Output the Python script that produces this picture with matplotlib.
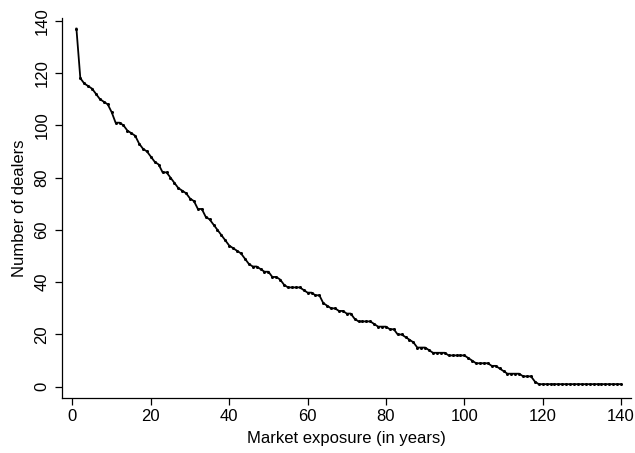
import matplotlib
matplotlib.use("Agg")
import matplotlib.pyplot as plt

# Years of market exposure and number of dealers still active
years = list(range(1, 141))
dealers = [
    137, 118, 116, 115, 114, 112, 110, 109, 108, 105,
    101, 101, 100, 98, 97, 96, 93, 91, 90, 88,
    86, 85, 82, 82, 80, 78, 76, 75, 74, 72,
    71, 68, 68, 65, 64, 62, 60, 58, 56, 54,
    53, 52, 51, 49, 47, 46, 46, 45, 44, 44,
    42, 42, 41, 39, 38, 38, 38, 38, 37, 36,
    36, 35, 35, 32, 31, 30, 30, 29, 29, 28,
    28, 26, 25, 25, 25, 25, 24, 23, 23, 23,
    22, 22, 20, 20, 19, 18, 17, 15, 15, 15,
    14, 13, 13, 13, 13, 12, 12, 12, 12, 12,
    11, 10, 9, 9, 9, 9, 8, 8, 7, 6,
    5, 5, 5, 5, 4, 4, 4, 2, 1, 1,
] + [1] * 20

xticks = [0, 20, 40, 60, 80, 100, 120, 140]
yticks = [0, 20, 40, 60, 80, 100, 120, 140]

plt.rcParams['font.family'] = ['Liberation Sans', 'DejaVu Sans']

fig = plt.figure(figsize=(6.35, 4.53), dpi=100)
ax = fig.add_axes([0.0975, 0.1225, 0.896, 0.837])

ax.plot(years, dealers, color='black', linewidth=1.3,
        marker='o', markersize=2.2, markerfacecolor='black', markeredgewidth=0)

ax.set_xlim(-2.7, 142.5)
ax.set_ylim(-4.1, 140.9)
ax.set_xticks(xticks)
ax.set_yticks(yticks)

ax.spines['top'].set_visible(False)
ax.spines['right'].set_visible(False)
for s in ['left', 'bottom']:
    ax.spines[s].set_linewidth(0.9)

ax.tick_params(axis='both', direction='out', length=5, width=0.9, labelsize=12)
ax.tick_params(axis='x', pad=3)
ax.tick_params(axis='y', pad=4)
for lbl in ax.get_yticklabels():
    lbl.set_rotation(90)
    lbl.set_va('center')

ax.set_xlabel('Market exposure (in years)', fontsize=12, labelpad=5)
ax.set_ylabel('Number of dealers', fontsize=12, labelpad=5)

fig.savefig('out.png', dpi=100)
